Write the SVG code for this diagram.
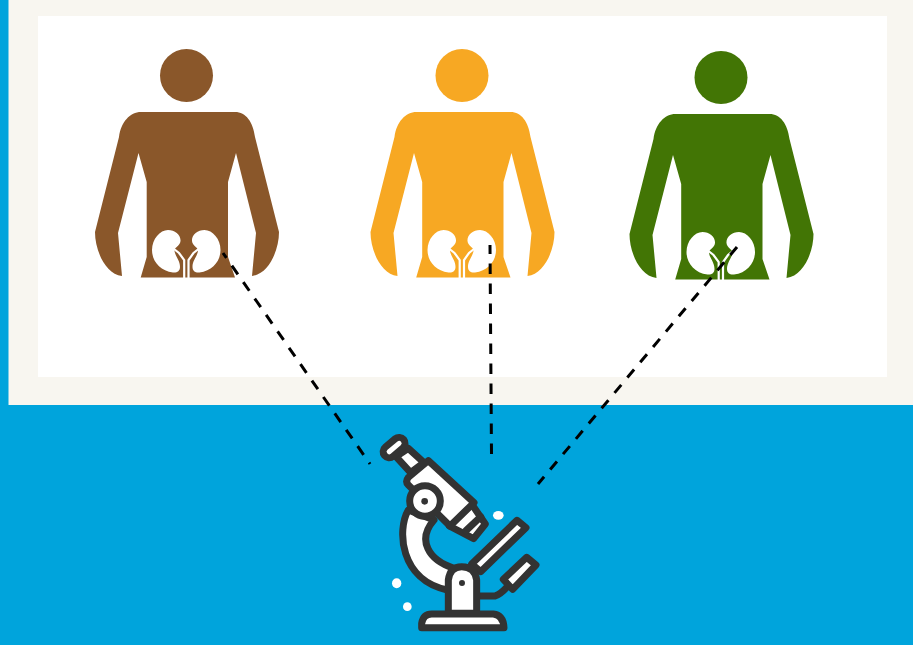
<svg xmlns="http://www.w3.org/2000/svg" xmlns:xlink="http://www.w3.org/1999/xlink" width="913" height="645" viewBox="0 0 913 645">
<style>
.w{fill:#fff}
.tube{fill:none;stroke:#fff;stroke-width:2.200}
.m{fill:#fff;stroke:#333;stroke-width:21;stroke-linejoin:round;stroke-linecap:round}
.l{fill:none;stroke:#333;stroke-width:21;stroke-linejoin:round;stroke-linecap:round}
.d{fill:#333}
.dash{fill:none;stroke:#000;stroke-width:3;stroke-dasharray:10.500 9.500}
</style>
<defs>
<g id="person">
<circle cx="186.5" cy="75.5" r="26.5"/>
<path d="M141 112 L235 112 C246 112 253 122 255 137 L279 232 C279 250 269 274 252 276 L256 233 L236 153 L228 182 L228 257 L235 277.5 L140.700 277.5 L146.700 257 L146.700 182 L138.500 153 L118 233 L122 276 C105 274 95 250 95 232 L119 137 C121 122 130 112 141 112 Z"/>
<path class="w" d="M168 230 C175 230 181 235 180.500 241 C180 246 175 247 174.500 250 C174.300 255 180 260 180 267 C180 271 177 273 173 272.500 C160 271 152 261 152 250 C152 239 160 230 168 230 Z"/>
<path class="w" d="M204.500 230 C197.500 230 191.500 235 192 241 C192.500 246 197.500 247 198 250 C198.200 255 192.500 260 192.500 267 C192.500 271 195.500 273 199.500 272.500 C212.500 271 220.500 261 220.500 250 C220.500 239 212.500 230 204.500 230 Z"/>
<path class="tube" d="M174 249 L179 253 L184.200 260 L184.200 278 M198.500 249 L193.500 253 L188.500 260 L188.500 278"/>
</g>
</defs>
<rect width="913" height="645" fill="#00a4dc"/>
<rect x="8.500" y="0" width="904.500" height="405" fill="#f8f6f0"/>
<rect x="38" y="16" width="849" height="361" fill="#fff"/>
<g id="person-brown" fill="#8a572a"><use xlink:href="#person" href="#person"/></g>
<g id="person-orange" fill="#f7a823"><use xlink:href="#person" href="#person" x="275.500"/></g>
<g id="person-green" fill="#427505"><use xlink:href="#person" href="#person" x="534.500" y="2"/></g>
<g id="connectors">
<path class="dash" d="M223 253 L370 464" stroke-dashoffset="4.500"/>
<path class="dash" d="M490 245 L491.500 455" stroke-dashoffset="1.500"/>
<path class="dash" d="M737 247 L538 484"/>
</g>
<g id="microscope" transform="translate(360 420) scale(.3333)">
<path class="l" d="M355 528 L405 528 Q420 525 445 497"/>
<path class="m" d="M335 432 L471 301 L498 323 L362 455 Z"/>
<path class="m" d="M430 478 L500 412 L528 435 L458 508 Z"/>
<path class="m" d="M145 270 C110 330 120 480 262 510 L282 445 C205 420 170 360 222 300 Z"/>
<path class="m" d="M265 580 L265 480 Q270 440 305 440 Q345 440 350 480 L350 580 Z"/>
<path class="m" d="M185 623 L185 610 Q190 582 215 582 L400 582 Q430 585 432 623 Z"/>
<circle class="d" cx="306" cy="489" r="9"/>
<path class="m" d="M108 110 L145 85 L192 128 L152 158 Z"/>
<rect class="m" x="65" y="65" width="75" height="36" rx="18" transform="rotate(-40 102 83)"/>
<path class="m" d="M335 252 L376 312 L341 356 L268 318 Z"/>
<path class="l" d="M362 290 L318 332"/>
<path class="m" d="M205 122 L342 248 L270 318 L145 195 Q135 185 145 172 Z"/>
<circle class="m" cx="195" cy="243" r="46"/>
<circle class="d" cx="194" cy="244" r="10"/>
<ellipse class="w" cx="415" cy="286" rx="16" ry="13"/>
<ellipse class="w" cx="110" cy="490" rx="14" ry="15"/>
<circle class="w" cx="142" cy="560" r="13"/>
</g>
</svg>
